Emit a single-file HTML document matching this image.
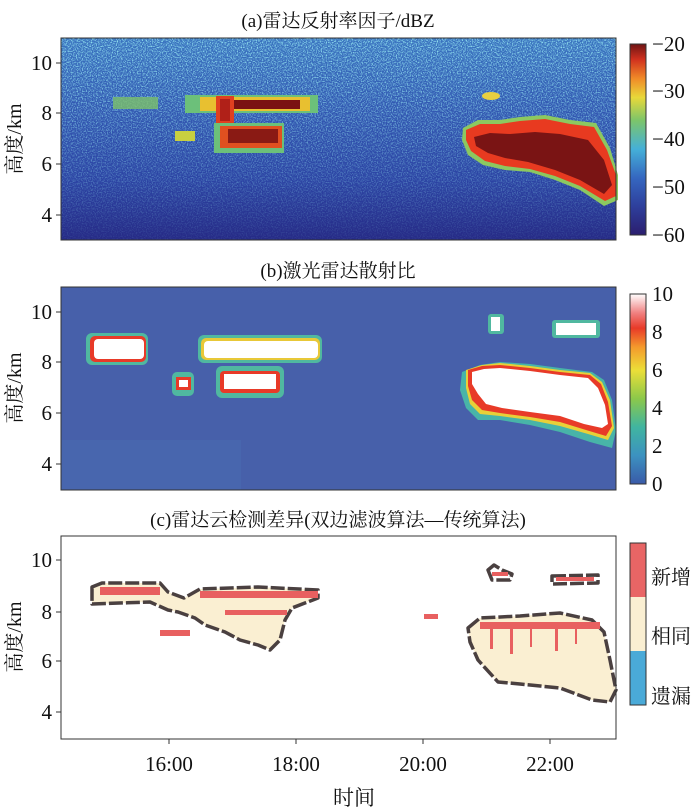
<!DOCTYPE html>
<html><head><meta charset="utf-8"><style>
body{margin:0;background:#fff;}
svg{display:block;}
text{font-family:"Liberation Serif","Noto Serif CJK SC",serif;fill:#111;}
</style></head><body>
<svg width="700" height="812" viewBox="0 0 700 812" xmlns="http://www.w3.org/2000/svg">
<defs>
<linearGradient id="bgA" x1="0" y1="0" x2="0" y2="1">
<stop offset="0" stop-color="#3a74c0"/><stop offset="0.35" stop-color="#3258b2"/><stop offset="0.7" stop-color="#2c44a4"/><stop offset="1" stop-color="#262a86"/>
</linearGradient>
<filter id="noise" x="0" y="0" width="100%" height="100%">
<feTurbulence type="fractalNoise" baseFrequency="0.8" numOctaves="1" seed="3"/>
<feColorMatrix values="0 0 0 0 0.3  0 0 0 0 0.78  0 0 0 0 0.88  0 0 0 3.2 -1.4"/>
</filter>
<linearGradient id="fadeA" x1="0" y1="0" x2="0" y2="1">
<stop offset="0" stop-color="#fff" stop-opacity="1"/><stop offset="0.5" stop-color="#fff" stop-opacity="0.55"/><stop offset="1" stop-color="#fff" stop-opacity="0.1"/>
</linearGradient>
<mask id="mA"><rect x="61" y="38" width="555" height="202" fill="url(#fadeA)"/></mask>
<linearGradient id="cbA" x1="0" y1="1" x2="0" y2="0">
<stop offset="0" stop-color="#2b1e6e"/><stop offset="0.15" stop-color="#2e3f9c"/><stop offset="0.3" stop-color="#3567c0"/><stop offset="0.45" stop-color="#45b0d8"/><stop offset="0.6" stop-color="#7cc56a"/><stop offset="0.72" stop-color="#e8d83a"/><stop offset="0.82" stop-color="#f08a28"/><stop offset="0.92" stop-color="#d0301e"/><stop offset="1" stop-color="#6e1414"/>
</linearGradient>
<linearGradient id="cbB" x1="0" y1="1" x2="0" y2="0">
<stop offset="0" stop-color="#3a5aa8"/><stop offset="0.15" stop-color="#3c92c0"/><stop offset="0.3" stop-color="#40b5a0"/><stop offset="0.45" stop-color="#8cc84a"/><stop offset="0.6" stop-color="#ecdf38"/><stop offset="0.72" stop-color="#f49a2c"/><stop offset="0.82" stop-color="#e83a28"/><stop offset="0.9" stop-color="#f08080"/><stop offset="1" stop-color="#ffffff"/>
</linearGradient>
</defs>

<!-- Panel A -->
<text x="338" y="27" font-size="19" text-anchor="middle">(a)雷达反射率因子/dBZ</text>
<rect x="61" y="38" width="555" height="202" fill="url(#bgA)"/>
<rect x="61" y="38" width="555" height="202" filter="url(#noise)" mask="url(#mA)"/>
<g>
<rect x="113" y="97" width="45" height="12" fill="#7cc06a" opacity="0.8"/>
<rect x="185" y="95" width="133" height="18" fill="#6cc07a"/>
<rect x="200" y="97" width="110" height="14" fill="#e8c030"/>
<rect x="228" y="100" width="72" height="9" fill="#7a1212"/>
<rect x="216" y="96" width="18" height="30" fill="#e04020"/>
<rect x="220" y="99" width="10" height="22" fill="#b02018"/>
<rect x="214" y="123" width="70" height="30" fill="#6cc07a"/>
<rect x="220" y="126" width="62" height="22" fill="#e05020"/>
<rect x="228" y="129" width="50" height="14" fill="#8a1a14"/>
<rect x="175" y="131" width="20" height="10" fill="#c8d040"/>
<ellipse cx="491" cy="96" rx="9" ry="4" fill="#e8d040"/>
<polygon points="463,128 478,120 500,120 520,117 545,115 570,120 596,123 610,148 618,175 618,200 604,206 580,190 555,180 530,172 505,170 483,165 468,155 462,140" fill="#8cc860"/>
<polygon points="466,130 480,124 500,124 520,121 545,119 570,124 594,127 607,150 616,175 616,196 605,201 580,186 555,176 530,169 505,166 485,161 471,151 466,140" fill="#e83a20"/>
<polygon points="474,137 490,133 510,134 535,132 560,134 588,140 604,160 612,185 604,194 580,180 555,170 528,162 505,158 488,153 476,146" fill="#7a1414"/>
</g>
<rect x="61" y="38" width="555" height="202" fill="none" stroke="#333" stroke-width="1"/>
<g font-size="21" text-anchor="end">
<text x="52" y="70">10</text><text x="52" y="120">8</text><text x="52" y="171">6</text><text x="52" y="222">4</text>
</g>
<g stroke="#333"><line x1="56" y1="63" x2="61" y2="63"/><line x1="56" y1="113" x2="61" y2="113"/><line x1="56" y1="164" x2="61" y2="164"/><line x1="56" y1="215" x2="61" y2="215"/></g>
<text transform="translate(21,139) rotate(-90)" font-size="20" text-anchor="middle">高度/km</text>
<rect x="630" y="44" width="16" height="191" fill="url(#cbA)" stroke="#333"/>
<g font-size="21"><text x="652" y="51">−20</text><text x="652" y="98">−30</text><text x="652" y="146">−40</text><text x="652" y="194">−50</text><text x="652" y="242">−60</text></g>

<!-- Panel B -->
<text x="338" y="277" font-size="19" text-anchor="middle">(b)激光雷达散射比</text>
<rect x="61" y="287" width="555" height="203" fill="#4760aa"/>
<rect x="61" y="440" width="180" height="50" fill="#4a6cb2" opacity="0.5"/>
<g>
<rect x="86" y="333" width="62" height="32" rx="6" fill="#50b8a0"/>
<rect x="90" y="336" width="56" height="26" rx="5" fill="#e83a28"/>
<rect x="94" y="339" width="50" height="20" rx="4" fill="#fff"/>
<rect x="198" y="335" width="124" height="28" rx="6" fill="#50b8a0"/>
<rect x="201" y="338" width="119" height="22" rx="5" fill="#e8c838"/>
<rect x="204" y="341" width="114" height="17" rx="4" fill="#fff"/>
<rect x="172" y="372" width="22" height="24" rx="5" fill="#50b8a0"/>
<rect x="176" y="377" width="15" height="13" fill="#e83a28"/>
<rect x="179" y="380" width="9" height="7" fill="#fff"/>
<rect x="216" y="366" width="68" height="32" rx="6" fill="#50b8a0"/>
<rect x="220" y="371" width="60" height="22" rx="4" fill="#e83a28"/>
<rect x="224" y="374" width="52" height="15" fill="#fff"/>
<rect x="488" y="314" width="16" height="20" rx="3" fill="#50b8a0"/>
<rect x="491" y="317" width="9" height="14" fill="#fff"/>
<rect x="552" y="320" width="48" height="18" rx="3" fill="#50b8a0"/>
<rect x="556" y="323" width="40" height="12" fill="#fff"/>
<polygon points="462,372 480,365 500,362 530,364 560,368 592,372 604,380 612,400 616,430 612,448 590,442 560,432 530,425 500,420 478,420 466,408 460,390" fill="#48b4a8"/>
<polygon points="466,370 482,365 500,363 530,366 560,370 590,373 602,382 610,400 614,428 608,440 588,434 560,426 530,420 500,416 480,414 470,404 466,388" fill="#e8d038"/>
<polygon points="468,370 482,366 500,365 530,368 560,372 590,375 601,384 608,402 612,426 606,436 586,430 560,422 530,417 500,413 482,410 472,400 468,386" fill="#e83a28"/>
<polygon points="472,372 484,369 500,368 530,371 560,375 588,378 598,388 605,405 608,424 602,428 584,424 560,416 530,412 502,408 486,404 478,394 472,384" fill="#fff"/>
</g>
<rect x="61" y="287" width="555" height="203" fill="none" stroke="#333"/>
<g font-size="21" text-anchor="end">
<text x="52" y="319">10</text><text x="52" y="369">8</text><text x="52" y="420">6</text><text x="52" y="471">4</text>
</g>
<g stroke="#333"><line x1="56" y1="312" x2="61" y2="312"/><line x1="56" y1="362" x2="61" y2="362"/><line x1="56" y1="413" x2="61" y2="413"/><line x1="56" y1="464" x2="61" y2="464"/></g>
<text transform="translate(21,388) rotate(-90)" font-size="20" text-anchor="middle">高度/km</text>
<rect x="630" y="294" width="16" height="190" fill="url(#cbB)" stroke="#333"/>
<g font-size="21"><text x="652" y="301">10</text><text x="652" y="339">8</text><text x="652" y="377">6</text><text x="652" y="415">4</text><text x="652" y="453">2</text><text x="652" y="491">0</text></g>

<!-- Panel C -->
<text x="338" y="526" font-size="19" text-anchor="middle">(c)雷达云检测差异(双边滤波算法—传统算法)</text>
<rect x="61" y="536" width="555" height="203" fill="#fff"/>
<g stroke="#4a4040" stroke-width="3.5" stroke-linejoin="round" fill="#faefd2" stroke-dasharray="14 3">
<polygon points="92,587 102,583 160,583 168,592 184,598 200,589 258,587 318,590 318,598 292,608 285,620 280,640 270,650 258,645 240,640 225,632 205,625 195,618 178,612 168,610 150,602 92,604"/>
<polygon points="468,628 480,618 520,616 560,613 592,620 604,632 610,660 616,690 610,702 592,700 560,688 520,684 498,682 478,660 470,642"/>
<polygon points="488,570 494,565 502,570 512,574 510,580 492,580" fill="#fff"/>
<polygon points="552,576 598,575 598,583 552,584" fill="#fff"/>
</g>
<g fill="#e86060">
<rect x="100" y="587" width="60" height="8"/>
<rect x="200" y="591" width="118" height="7"/>
<rect x="160" y="630" width="30" height="6"/>
<rect x="225" y="610" width="62" height="5"/>
<rect x="480" y="622" width="120" height="7"/>
<rect x="490" y="629" width="3" height="20"/><rect x="510" y="629" width="3" height="25"/><rect x="530" y="629" width="2" height="18"/><rect x="555" y="629" width="3" height="22"/><rect x="575" y="629" width="2" height="15"/>
<rect x="492" y="572" width="16" height="4"/><rect x="556" y="577" width="38" height="4"/>
<rect x="424" y="614" width="14" height="5"/>
</g>
<rect x="61" y="536" width="555" height="203" fill="none" stroke="#333"/>
<g font-size="21" text-anchor="end">
<text x="52" y="567">10</text><text x="52" y="619">8</text><text x="52" y="668">6</text><text x="52" y="719">4</text>
</g>
<g stroke="#333"><line x1="56" y1="560" x2="61" y2="560"/><line x1="56" y1="612" x2="61" y2="612"/><line x1="56" y1="661" x2="61" y2="661"/><line x1="56" y1="712" x2="61" y2="712"/>
<line x1="169" y1="739" x2="169" y2="744"/><line x1="296" y1="739" x2="296" y2="744"/><line x1="423" y1="739" x2="423" y2="744"/><line x1="550" y1="739" x2="550" y2="744"/></g>
<g font-size="21" text-anchor="middle"><text x="169" y="771">16:00</text><text x="296" y="771">18:00</text><text x="423" y="771">20:00</text><text x="550" y="771">22:00</text></g>
<text x="354" y="805" font-size="21" text-anchor="middle">时间</text>
<text transform="translate(21,637) rotate(-90)" font-size="20" text-anchor="middle">高度/km</text>
<rect x="630" y="543" width="16" height="54" fill="#e86565"/>
<rect x="630" y="597" width="16" height="54" fill="#faefd2"/>
<rect x="630" y="651" width="16" height="54" fill="#4aaad8"/>
<rect x="630" y="543" width="16" height="162" fill="none" stroke="#333"/>
<g font-size="20"><text x="651" y="584">新增</text><text x="651" y="643">相同</text><text x="651" y="703">遗漏</text></g>
</svg>
</body></html>
